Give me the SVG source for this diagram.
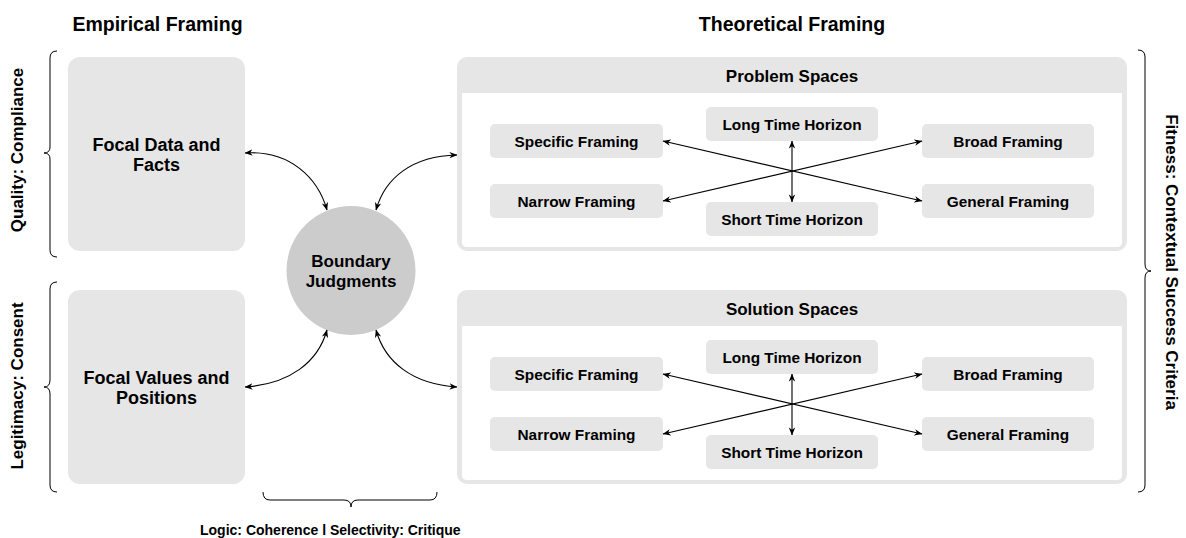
<svg xmlns="http://www.w3.org/2000/svg" width="1186" height="538" viewBox="0 0 1186 538">
<defs>
<style>
.t{font-family:"Liberation Sans",Arial,Helvetica,sans-serif;font-weight:bold;fill:#000;text-anchor:middle}
.title{font-size:19.5px}
.focal{font-size:18px}
.hdr{font-size:17px}
.bj{font-size:17px}
.in{font-size:15.4px}
.side{font-size:17px}
.bot{font-size:14px;text-anchor:start}
.box{fill:#e6e6e6}
.edge{fill:none;stroke:#000;stroke-width:1.1;marker-start:url(#ah);marker-end:url(#ah)}
.brace{fill:none;stroke:#000;stroke-width:1}
</style>
<marker id="ah" viewBox="0 0 10 10" refX="9.5" refY="5" markerWidth="8" markerHeight="8" markerUnits="userSpaceOnUse" orient="auto-start-reverse">
<path d="M0,1 L10,5 L0,9 L3,5 Z" fill="#000"/>
</marker>
</defs>
<rect width="1186" height="538" fill="#fff"/>

<g id="titles">
<text class="t title" x="157.5" y="31">Empirical Framing</text>
<text class="t title" x="792" y="31">Theoretical Framing</text>
</g>

<g id="braces">
<path class="brace" d="M57,51 Q50,51 50,58 V147 Q50,153 44,153 Q50,153 50,159 V250 Q50,257 57,257"/>
<path class="brace" d="M57,282 Q50,282 50,289 V380 Q50,387 44,387 Q50,387 50,394 V485 Q50,492 57,492"/>
<path class="brace" d="M1138,50 Q1145,50 1145,57 V264 Q1145,271 1151,271 Q1145,271 1145,278 V485 Q1145,492 1138,492"/>
<path class="brace" d="M263,492 Q263,500 270,500 H344 Q351,500 351,507 Q351,500 358,500 H430 Q437,500 437,492"/>
</g>

<g id="side-labels">
<text class="t side" transform="translate(23,150) rotate(-90)">Quality: Compliance</text>
<text class="t side" transform="translate(23,386) rotate(-90)">Legitimacy: Consent</text>
<text class="t side" transform="translate(1166,262) rotate(90)">Fitness: Contextual Success Criteria</text>
<text class="t bot" x="200" y="535">Logic: Coherence l Selectivity: Critique</text>
</g>

<g id="focal-data">
<rect class="box" x="68" y="57" width="177" height="194" rx="12"/>
<text class="t focal" x="156.5" y="151">Focal Data and</text>
<text class="t focal" x="156.5" y="171">Facts</text>
</g>

<g id="focal-values">
<rect class="box" x="68" y="290" width="177" height="194" rx="12"/>
<text class="t focal" x="156.5" y="384">Focal Values and</text>
<text class="t focal" x="156.5" y="404">Positions</text>
</g>

<g id="boundary-judgments">
<circle cx="351" cy="270.5" r="64.5" fill="#cccccc"/>
<text class="t bj" x="351" y="266.5">Boundary</text>
<text class="t bj" x="351" y="286.5">Judgments</text>
</g>

<g id="problem-spaces">
<rect class="box" x="457" y="57" width="670" height="194" rx="10"/>
<path d="M462,93 H1122 V242 Q1122,247 1117,247 H467 Q462,247 462,242 Z" fill="#fff"/>
<text class="t hdr" x="792" y="81.5">Problem Spaces</text>
<g id="ps-specific"><rect class="box" x="490" y="124" width="173" height="34" rx="5"/><text class="t in" x="576.5" y="146.5">Specific Framing</text></g>
<g id="ps-narrow"><rect class="box" x="490" y="184" width="173" height="34" rx="5"/><text class="t in" x="576.5" y="206.5">Narrow Framing</text></g>
<g id="ps-long"><rect class="box" x="706" y="107" width="172" height="34" rx="5"/><text class="t in" x="792" y="129.5">Long Time Horizon</text></g>
<g id="ps-short"><rect class="box" x="706" y="202" width="172" height="34" rx="5"/><text class="t in" x="792" y="224.5">Short Time Horizon</text></g>
<g id="ps-broad"><rect class="box" x="922" y="124" width="172" height="34" rx="5"/><text class="t in" x="1008" y="146.5">Broad Framing</text></g>
<g id="ps-general"><rect class="box" x="922" y="184" width="172" height="34" rx="5"/><text class="t in" x="1008" y="206.5">General Framing</text></g>
</g>

<g id="solution-spaces">
<rect class="box" x="457" y="290" width="670" height="194" rx="10"/>
<path d="M462,326 H1122 V475 Q1122,480 1117,480 H467 Q462,480 462,475 Z" fill="#fff"/>
<text class="t hdr" x="792" y="314.5">Solution Spaces</text>
<g id="ss-specific"><rect class="box" x="490" y="357" width="173" height="34" rx="5"/><text class="t in" x="576.5" y="379.5">Specific Framing</text></g>
<g id="ss-narrow"><rect class="box" x="490" y="417" width="173" height="34" rx="5"/><text class="t in" x="576.5" y="439.5">Narrow Framing</text></g>
<g id="ss-long"><rect class="box" x="706" y="340" width="172" height="34" rx="5"/><text class="t in" x="792" y="362.5">Long Time Horizon</text></g>
<g id="ss-short"><rect class="box" x="706" y="435" width="172" height="34" rx="5"/><text class="t in" x="792" y="457.5">Short Time Horizon</text></g>
<g id="ss-broad"><rect class="box" x="922" y="357" width="172" height="34" rx="5"/><text class="t in" x="1008" y="379.5">Broad Framing</text></g>
<g id="ss-general"><rect class="box" x="922" y="417" width="172" height="34" rx="5"/><text class="t in" x="1008" y="439.5">General Framing</text></g>
</g>

<g id="connectors">
<path class="edge" d="M245,153 C290,150 318,178 327,210"/>
<path class="edge" d="M376,210 C385,178 412,156 457,155"/>
<path class="edge" d="M245,387 C290,384 318,362 327,330"/>
<path class="edge" d="M376,330 C385,362 412,384 457,387"/>
<path class="edge" d="M663,141 L922,201"/>
<path class="edge" d="M663,201 L922,141"/>
<path class="edge" d="M792,141 L792,202"/>
<path class="edge" d="M663,374 L922,434"/>
<path class="edge" d="M663,434 L922,374"/>
<path class="edge" d="M792,374 L792,435"/>
</g>
</svg>
